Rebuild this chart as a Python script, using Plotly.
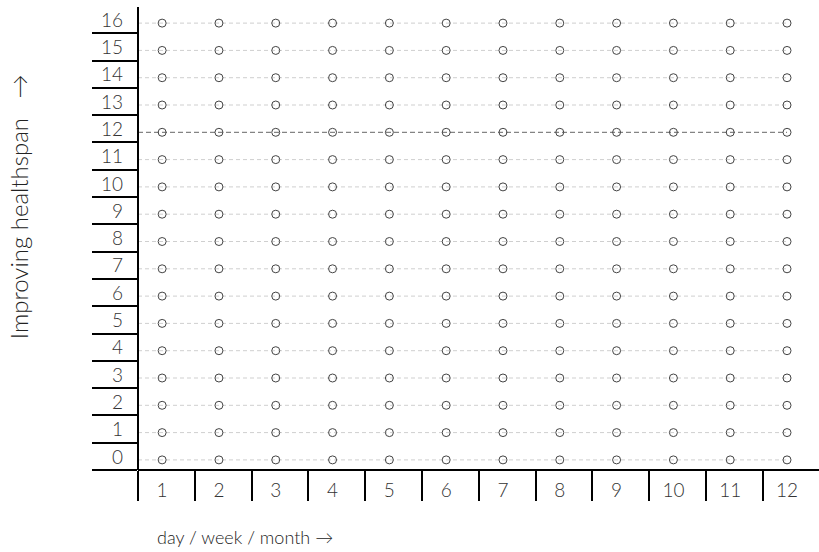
import plotly.graph_objects as go

# ---- data ----
periods = list(range(1, 13))            # day / week / month index
levels = list(range(0, 17))             # healthspan levels
period_labels = [str(p) for p in periods]
level_labels = [str(l) for l in levels]
threshold_level = 12                    # highlighted dashed row

# ---- style / layout constants ----
FONT = "Lato"
X_SEP_OFFSET = 0.575
Y_SEP_OFFSET = 0.63
x_lo = periods[0] - 1 + X_SEP_OFFSET
x_hi = 12.563
y_lo = levels[0] - 1 + Y_SEP_OFFSET
y_hi = 16.59

fig = go.Figure()

# light dashed rows
gx, gy = [], []
for l in levels:
    if l == threshold_level:
        continue
    gx += [x_lo, periods[-1], None]
    gy += [l, l, None]
fig.add_trace(go.Scatter(x=gx, y=gy, mode="lines",
                         line=dict(color="#cfcfcf", width=1, dash="4px,3px"),
                         hoverinfo="skip", showlegend=False))
# highlighted row
fig.add_trace(go.Scatter(x=[x_lo, periods[-1]], y=[threshold_level, threshold_level],
                         mode="lines",
                         line=dict(color="#666666", width=1, dash="5px,3px"),
                         hoverinfo="skip", showlegend=False))
# markers
mx, my = [], []
for l in levels:
    for p in periods:
        mx.append(p)
        my.append(l)
fig.add_trace(go.Scatter(x=mx, y=my, mode="markers",
                         marker=dict(symbol="circle-open", size=8, color="#444444",
                                     line=dict(width=1, color="#444444")),
                         showlegend=False))

x_seps = [p - 1 + X_SEP_OFFSET for p in periods]
y_seps = [l - 1 + Y_SEP_OFFSET for l in levels]

fig.update_xaxes(range=[x_lo, x_hi], showgrid=False, zeroline=False,
                 showline=False, automargin=False,
                 tickmode="array", tickvals=periods, ticktext=period_labels,
                 ticks="", ticklabelstandoff=7,
                 tickfont=dict(family=FONT, size=19, color="#333333", weight=300),
                 minor=dict(tickmode="array", tickvals=x_seps, ticks="outside",
                            ticklen=30, tickwidth=2, tickcolor="black", showgrid=False))
fig.update_yaxes(range=[y_lo, y_hi], showgrid=False, zeroline=False,
                 showline=False, automargin=False,
                 tickmode="array", tickvals=levels, ticktext=level_labels,
                 ticks="", ticklabelstandoff=14, ticklabelshift=-3,
                 tickfont=dict(family=FONT, size=19, color="#333333", weight=300),
                 minor=dict(tickmode="array", tickvals=y_seps, ticks="outside",
                            ticklen=45, tickwidth=2, tickcolor="black", showgrid=False))

# axis lines through the plot edges
fig.add_shape(type="line", xref="paper", yref="paper", x0=0, x1=1, y0=0, y1=0,
              line=dict(color="black", width=2))
fig.add_shape(type="line", xref="paper", yref="paper", x0=0, x1=0, y0=0, y1=1,
              line=dict(color="black", width=2))

fig.add_annotation(text="Improving healthspan   →", xref="paper", yref="paper",
                   x=-0.176, y=0.568, xanchor="center", yanchor="middle",
                   showarrow=False, textangle=-90,
                   font=dict(family=FONT, size=24, color="#222222", weight=300))
fig.add_annotation(text="day / week / month →", xref="paper", yref="paper",
                   x=0.157, y=-0.145, xanchor="center", yanchor="middle",
                   showarrow=False,
                   font=dict(family=FONT, size=18, color="#222222", weight=300))

fig.update_layout(width=819, height=552,
                  margin=dict(l=138, r=0, t=7, b=82),
                  plot_bgcolor="white", paper_bgcolor="white")

fig.write_html("out.html", post_script="document.body.style.margin='0px';",
               config={"displayModeBar": False})
